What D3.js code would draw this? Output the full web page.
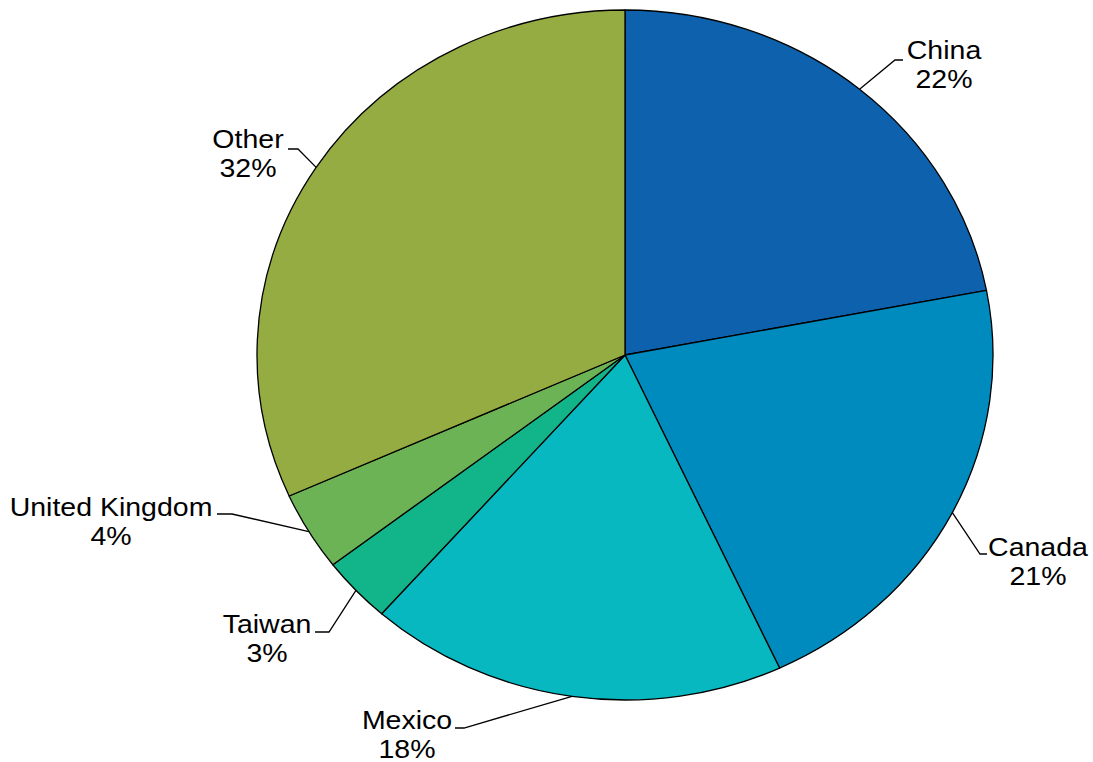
<!DOCTYPE html>
<html>
<head>
<meta charset="utf-8">
<script src="https://cdn.jsdelivr.net/npm/d3@7"></script>
<style>
  body { margin: 0; background: #fff; }
  text { font-family: "Liberation Sans", Arial, sans-serif; font-size: 25px; fill: #000; }
</style>
</head>
<body>
<svg width="1093" height="762"></svg>
<script>
// share of total, by country
var countries = ["China", "Canada", "Mexico", "Taiwan", "United Kingdom", "Other"];
var shares = [22.0, 21.1, 18.4, 3.1, 3.7, 31.7];
var shareLabels = ["22%", "21%", "18%", "3%", "4%", "32%"];
var colors = ["#0e62ad", "#008bbf", "#08b8c1", "#12b589", "#6cb356", "#95ac42"];

// label layout: elbow point, end of leader, text centre x, first baseline
var labelLayout = [
  { ex: 895, ey: 60,  endX: 903, tx: 944,  ty: 59  },
  { ex: 980, ey: 554, endX: 987, tx: 1038, ty: 556 },
  { ex: 464, ey: 728, endX: 455, tx: 407,  ty: 729 },
  { ex: 329, ey: 632, endX: 315, tx: 267,  ty: 633 },
  { ex: 232, ey: 514, endX: 217, tx: 111,  ty: 516 },
  { ex: 298, ey: 149, endX: 288, tx: 248,  ty: 148 }
];

var svg = d3.select("svg"),
    cx = 625, cy = 355,
    rx = 368, ry = 345,
    textStretch = 1.14;

var data = countries.map(function(c, i) {
  return { name: c, value: shares[i], label: shareLabels[i], color: colors[i], layout: labelLayout[i] };
});

var pie = d3.pie()
    .sort(null)
    .value(function(d) { return d.value; });

var arc = d3.arc()
    .outerRadius(rx)
    .innerRadius(0);

var arcs = pie(data);

// circle squashed vertically into an ellipse
var g = svg.append("g")
    .attr("transform", "translate(" + cx + "," + cy + ") scale(1," + (ry / rx) + ")");

g.selectAll("path")
    .data(arcs)
  .enter().append("path")
    .attr("d", arc)
    .attr("fill", function(d) { return d.data.color; })
    .attr("stroke", "#000")
    .attr("stroke-width", 1.3)
    .attr("vector-effect", "non-scaling-stroke")
    .attr("stroke-linejoin", "round");

// leader lines start on the rim at each slice's mid angle
function rimPoint(d) {
  var a = (d.startAngle + d.endAngle) / 2;
  return [cx + rx * Math.sin(a), cy - ry * Math.cos(a)];
}

var labels = svg.append("g");

labels.selectAll("polyline")
    .data(arcs)
  .enter().append("polyline")
    .attr("points", function(d) {
      var p = rimPoint(d), l = d.data.layout;
      return [p, [l.ex, l.ey], [l.endX, l.ey]].map(function(q) { return q.join(","); }).join(" ");
    })
    .attr("fill", "none")
    .attr("stroke", "#000")
    .attr("stroke-width", 1.3);

// the source labels are a little wider than plain Arial
var t = labels.selectAll("text")
    .data(arcs)
  .enter().append("text")
    .attr("text-anchor", "middle")
    .attr("transform", function(d) {
      return "translate(" + d.data.layout.tx + "," + d.data.layout.ty + ") scale(" + textStretch + ",1)";
    });

t.append("tspan")
    .attr("x", 0)
    .text(function(d) { return d.data.name; });

t.append("tspan")
    .attr("x", 0)
    .attr("dy", 29)
    .text(function(d) { return d.data.label; });
</script>
</body>
</html>
